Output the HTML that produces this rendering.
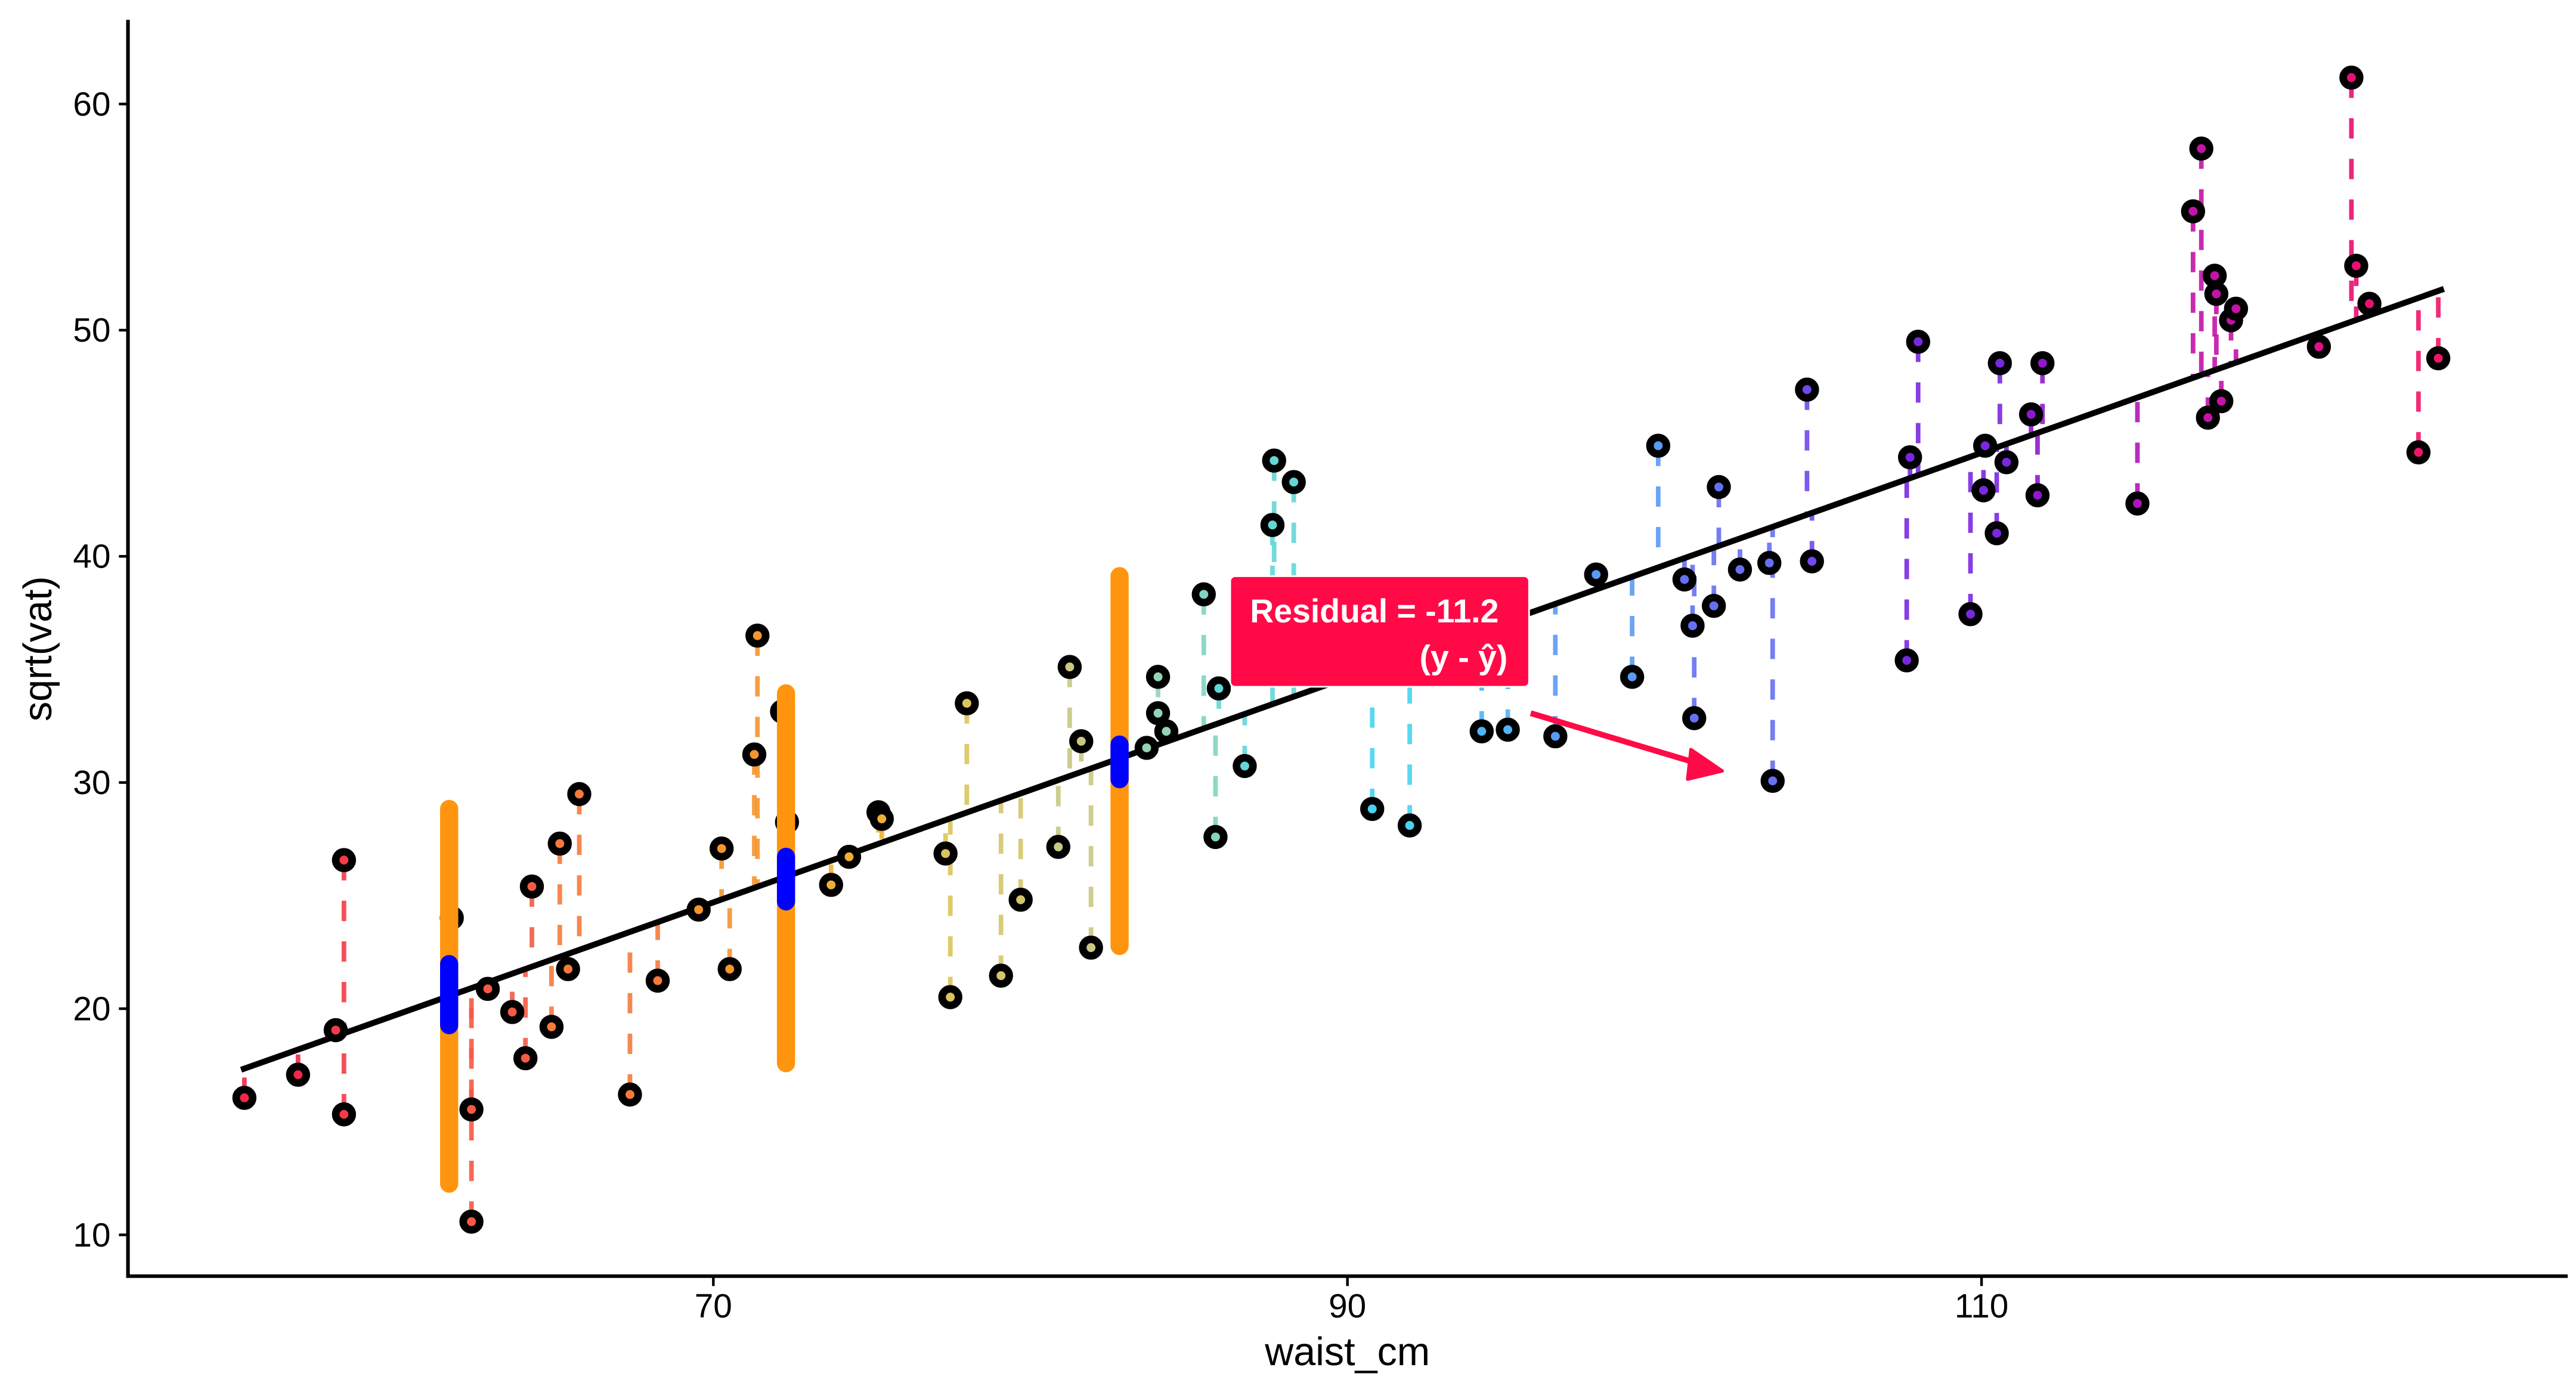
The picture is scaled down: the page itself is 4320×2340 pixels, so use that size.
<!DOCTYPE html>
<html><head><meta charset="utf-8"><style>html,body{margin:0;padding:0;background:#fff}svg{display:block}</style></head>
<body>
<svg xmlns="http://www.w3.org/2000/svg" width="4320" height="2340" viewBox="0 0 1560 845" preserveAspectRatio="none" font-family="'Liberation Sans', Arial, sans-serif">
<rect width="1560" height="845" fill="#fff"/>
<g stroke-width="2.8" stroke-dasharray="12.3,12.3" stroke-opacity="0.9">
<line x1="148" y1="665" x2="148" y2="647" stroke="#F0284A"/>
<line x1="180.5" y1="651" x2="180.5" y2="636" stroke="#F0284A"/>
<line x1="203.3" y1="624" x2="203.3" y2="628" stroke="#F23C48"/>
<line x1="208.3" y1="675" x2="208.3" y2="626" stroke="#F23C48"/>
<line x1="208.3" y1="521" x2="208.3" y2="626" stroke="#F23C48"/>
<line x1="273.6" y1="556" x2="273.6" y2="603" stroke="#F45A44"/>
<line x1="285.5" y1="672" x2="285.5" y2="598" stroke="#F45A44"/>
<line x1="285.5" y1="740" x2="285.5" y2="598" stroke="#F45A44"/>
<line x1="295.4" y1="599" x2="295.4" y2="595" stroke="#F45A44"/>
<line x1="310.2" y1="613" x2="310.2" y2="590" stroke="#F45A44"/>
<line x1="318.2" y1="641" x2="318.2" y2="587" stroke="#F45A44"/>
<line x1="322.1" y1="537" x2="322.1" y2="586" stroke="#F45A44"/>
<line x1="334" y1="622" x2="334" y2="581" stroke="#F57A3C"/>
<line x1="339" y1="511" x2="339" y2="580" stroke="#F57A3C"/>
<line x1="344" y1="587" x2="344" y2="578" stroke="#F57A3C"/>
<line x1="350.8" y1="481" x2="350.8" y2="575" stroke="#F57A3C"/>
<line x1="381.5" y1="663" x2="381.5" y2="565" stroke="#F57A3C"/>
<line x1="398.3" y1="594" x2="398.3" y2="559" stroke="#F57A3C"/>
<line x1="423.1" y1="551" x2="423.1" y2="550" stroke="#F5952E"/>
<line x1="437" y1="514" x2="437" y2="545" stroke="#F5952E"/>
<line x1="441.9" y1="587" x2="441.9" y2="543" stroke="#F5952E"/>
<line x1="456.8" y1="457" x2="456.8" y2="538" stroke="#F5952E"/>
<line x1="458.7" y1="385" x2="458.7" y2="537" stroke="#F5952E"/>
<line x1="473.6" y1="431" x2="473.6" y2="532" stroke="#EDAF36"/>
<line x1="476.6" y1="498" x2="476.6" y2="531" stroke="#EDAF36"/>
<line x1="503.3" y1="536" x2="503.3" y2="521" stroke="#EDAF36"/>
<line x1="514.2" y1="519" x2="514.2" y2="517" stroke="#EDAF36"/>
<line x1="532" y1="492" x2="532" y2="511" stroke="#EDAF36"/>
<line x1="534" y1="496" x2="534" y2="510" stroke="#EDAF36"/>
<line x1="572.6" y1="517" x2="572.6" y2="497" stroke="#DCC45A"/>
<line x1="575.5" y1="604" x2="575.5" y2="496" stroke="#DCC45A"/>
<line x1="585.5" y1="426" x2="585.5" y2="492" stroke="#DCC45A"/>
<line x1="606.2" y1="591" x2="606.2" y2="485" stroke="#D4C66C"/>
<line x1="618.1" y1="545" x2="618.1" y2="481" stroke="#D4C66C"/>
<line x1="640.9" y1="513" x2="640.9" y2="473" stroke="#C8C882"/>
<line x1="647.8" y1="404" x2="647.8" y2="470" stroke="#C8C882"/>
<line x1="654.8" y1="449" x2="654.8" y2="468" stroke="#C8C882"/>
<line x1="660.7" y1="574" x2="660.7" y2="466" stroke="#C8C882"/>
<line x1="694.4" y1="453" x2="694.4" y2="454" stroke="#96D2B4"/>
<line x1="701.3" y1="432" x2="701.3" y2="451" stroke="#96D2B4"/>
<line x1="701.3" y1="410" x2="701.3" y2="451" stroke="#96D2B4"/>
<line x1="706.3" y1="443" x2="706.3" y2="449" stroke="#96D2B4"/>
<line x1="729" y1="360" x2="729" y2="441" stroke="#80D4C0"/>
<line x1="736.1" y1="507" x2="736.1" y2="439" stroke="#80D4C0"/>
<line x1="738.1" y1="417" x2="738.1" y2="438" stroke="#64D6D6"/>
<line x1="753.8" y1="464" x2="753.8" y2="432" stroke="#64D6D6"/>
<line x1="770.6" y1="318" x2="770.6" y2="426" stroke="#64D6D6"/>
<line x1="771.6" y1="279" x2="771.6" y2="426" stroke="#64D6D6"/>
<line x1="783.5" y1="292" x2="783.5" y2="422" stroke="#64D6D6"/>
<line x1="831" y1="490" x2="831" y2="405" stroke="#48D4EE"/>
<line x1="853.7" y1="500" x2="853.7" y2="397" stroke="#48D4EE"/>
<line x1="897.3" y1="443" x2="897.3" y2="382" stroke="#52B4F5"/>
<line x1="913.1" y1="442" x2="913.1" y2="376" stroke="#52B4F5"/>
<line x1="941.9" y1="446" x2="941.9" y2="366" stroke="#5A9AF5"/>
<line x1="966.6" y1="348" x2="966.6" y2="357" stroke="#5A9AF5"/>
<line x1="988.4" y1="410" x2="988.4" y2="349" stroke="#5A9AF5"/>
<line x1="1004.2" y1="270" x2="1004.2" y2="344" stroke="#5A9AF5"/>
<line x1="1020.1" y1="351" x2="1020.1" y2="338" stroke="#6670F2"/>
<line x1="1025" y1="379" x2="1025" y2="336" stroke="#6670F2"/>
<line x1="1026" y1="435" x2="1026" y2="336" stroke="#6670F2"/>
<line x1="1037.9" y1="367" x2="1037.9" y2="332" stroke="#6670F2"/>
<line x1="1040.9" y1="295" x2="1040.9" y2="331" stroke="#6670F2"/>
<line x1="1053.7" y1="345" x2="1053.7" y2="326" stroke="#6670F2"/>
<line x1="1071.5" y1="341" x2="1071.5" y2="320" stroke="#6670F2"/>
<line x1="1073.5" y1="473" x2="1073.5" y2="319" stroke="#6670F2"/>
<line x1="1094.3" y1="236" x2="1094.3" y2="312" stroke="#7048EC"/>
<line x1="1097.3" y1="340" x2="1097.3" y2="311" stroke="#7048EC"/>
<line x1="1154.7" y1="400" x2="1154.7" y2="290" stroke="#7A28E0"/>
<line x1="1156.7" y1="277" x2="1156.7" y2="290" stroke="#7A28E0"/>
<line x1="1161.6" y1="207" x2="1161.6" y2="288" stroke="#7A28E0"/>
<line x1="1193.3" y1="372" x2="1193.3" y2="277" stroke="#7A28E0"/>
<line x1="1201.2" y1="297" x2="1201.2" y2="274" stroke="#7A28E0"/>
<line x1="1202.2" y1="270" x2="1202.2" y2="274" stroke="#7A28E0"/>
<line x1="1209.2" y1="323" x2="1209.2" y2="271" stroke="#7A28E0"/>
<line x1="1211.1" y1="220" x2="1211.1" y2="270" stroke="#7A28E0"/>
<line x1="1215.1" y1="280" x2="1215.1" y2="269" stroke="#7A28E0"/>
<line x1="1230" y1="251" x2="1230" y2="264" stroke="#9018CC"/>
<line x1="1233.9" y1="300" x2="1233.9" y2="262" stroke="#9018CC"/>
<line x1="1236.9" y1="220" x2="1236.9" y2="261" stroke="#9018CC"/>
<line x1="1294.4" y1="305" x2="1294.4" y2="241" stroke="#B014B8"/>
<line x1="1328.1" y1="128" x2="1328.1" y2="229" stroke="#C214A6"/>
<line x1="1333.1" y1="90" x2="1333.1" y2="227" stroke="#C214A6"/>
<line x1="1337.1" y1="253" x2="1337.1" y2="226" stroke="#C214A6"/>
<line x1="1341.2" y1="167" x2="1341.2" y2="224" stroke="#C214A6"/>
<line x1="1342.2" y1="178" x2="1342.2" y2="224" stroke="#C214A6"/>
<line x1="1345.2" y1="243" x2="1345.2" y2="223" stroke="#C214A6"/>
<line x1="1351.1" y1="194" x2="1351.1" y2="221" stroke="#C214A6"/>
<line x1="1354.1" y1="187" x2="1354.1" y2="220" stroke="#C214A6"/>
<line x1="1404.3" y1="210" x2="1404.3" y2="202" stroke="#E0108C"/>
<line x1="1424" y1="47" x2="1424" y2="195" stroke="#E81070"/>
<line x1="1426.9" y1="161" x2="1426.9" y2="194" stroke="#E81070"/>
<line x1="1434.9" y1="184" x2="1434.9" y2="191" stroke="#E81070"/>
<line x1="1464.6" y1="274" x2="1464.6" y2="180" stroke="#F21468"/>
<line x1="1476.6" y1="217" x2="1476.6" y2="176" stroke="#F21468"/>
</g>
<line x1="146" y1="648" x2="1480" y2="175" stroke="#000" stroke-width="3.6"/>
<g stroke="#000" stroke-width="4.6">
<circle cx="148" cy="665" r="5" fill="#F0284A"/>
<circle cx="180.5" cy="651" r="5" fill="#F0284A"/>
<circle cx="203.3" cy="624" r="5" fill="#F23C48"/>
<circle cx="208.3" cy="675" r="5" fill="#F23C48"/>
<circle cx="208.3" cy="521" r="5" fill="#F23C48"/>
<circle cx="273.6" cy="556" r="5" fill="#F45A44"/>
<circle cx="285.5" cy="672" r="5" fill="#F45A44"/>
<circle cx="285.5" cy="740" r="5" fill="#F45A44"/>
<circle cx="295.4" cy="599" r="5" fill="#F45A44"/>
<circle cx="310.2" cy="613" r="5" fill="#F45A44"/>
<circle cx="318.2" cy="641" r="5" fill="#F45A44"/>
<circle cx="322.1" cy="537" r="5" fill="#F45A44"/>
<circle cx="334" cy="622" r="5" fill="#F57A3C"/>
<circle cx="339" cy="511" r="5" fill="#F57A3C"/>
<circle cx="344" cy="587" r="5" fill="#F57A3C"/>
<circle cx="350.8" cy="481" r="5" fill="#F57A3C"/>
<circle cx="381.5" cy="663" r="5" fill="#F57A3C"/>
<circle cx="398.3" cy="594" r="5" fill="#F57A3C"/>
<circle cx="423.1" cy="551" r="5" fill="#F5952E"/>
<circle cx="437" cy="514" r="5" fill="#F5952E"/>
<circle cx="441.9" cy="587" r="5" fill="#F5952E"/>
<circle cx="456.8" cy="457" r="5" fill="#F5952E"/>
<circle cx="458.7" cy="385" r="5" fill="#F5952E"/>
<circle cx="473.6" cy="431" r="5" fill="#EDAF36"/>
<circle cx="476.6" cy="498" r="5" fill="#EDAF36"/>
<circle cx="503.3" cy="536" r="5" fill="#EDAF36"/>
<circle cx="514.2" cy="519" r="5" fill="#EDAF36"/>
<circle cx="532" cy="492" r="5" fill="#EDAF36"/>
<circle cx="534" cy="496" r="5" fill="#EDAF36"/>
<circle cx="572.6" cy="517" r="5" fill="#DCC45A"/>
<circle cx="575.5" cy="604" r="5" fill="#DCC45A"/>
<circle cx="585.5" cy="426" r="5" fill="#DCC45A"/>
<circle cx="606.2" cy="591" r="5" fill="#D4C66C"/>
<circle cx="618.1" cy="545" r="5" fill="#D4C66C"/>
<circle cx="640.9" cy="513" r="5" fill="#C8C882"/>
<circle cx="647.8" cy="404" r="5" fill="#C8C882"/>
<circle cx="654.8" cy="449" r="5" fill="#C8C882"/>
<circle cx="660.7" cy="574" r="5" fill="#C8C882"/>
<circle cx="694.4" cy="453" r="5" fill="#96D2B4"/>
<circle cx="701.3" cy="432" r="5" fill="#96D2B4"/>
<circle cx="701.3" cy="410" r="5" fill="#96D2B4"/>
<circle cx="706.3" cy="443" r="5" fill="#96D2B4"/>
<circle cx="729" cy="360" r="5" fill="#80D4C0"/>
<circle cx="736.1" cy="507" r="5" fill="#80D4C0"/>
<circle cx="738.1" cy="417" r="5" fill="#64D6D6"/>
<circle cx="753.8" cy="464" r="5" fill="#64D6D6"/>
<circle cx="770.6" cy="318" r="5" fill="#64D6D6"/>
<circle cx="771.6" cy="279" r="5" fill="#64D6D6"/>
<circle cx="783.5" cy="292" r="5" fill="#64D6D6"/>
<circle cx="831" cy="490" r="5" fill="#48D4EE"/>
<circle cx="853.7" cy="500" r="5" fill="#48D4EE"/>
<circle cx="897.3" cy="443" r="5" fill="#52B4F5"/>
<circle cx="913.1" cy="442" r="5" fill="#52B4F5"/>
<circle cx="941.9" cy="446" r="5" fill="#5A9AF5"/>
<circle cx="966.6" cy="348" r="5" fill="#5A9AF5"/>
<circle cx="988.4" cy="410" r="5" fill="#5A9AF5"/>
<circle cx="1004.2" cy="270" r="5" fill="#5A9AF5"/>
<circle cx="1020.1" cy="351" r="5" fill="#6670F2"/>
<circle cx="1025" cy="379" r="5" fill="#6670F2"/>
<circle cx="1026" cy="435" r="5" fill="#6670F2"/>
<circle cx="1037.9" cy="367" r="5" fill="#6670F2"/>
<circle cx="1040.9" cy="295" r="5" fill="#6670F2"/>
<circle cx="1053.7" cy="345" r="5" fill="#6670F2"/>
<circle cx="1071.5" cy="341" r="5" fill="#6670F2"/>
<circle cx="1073.5" cy="473" r="5" fill="#6670F2"/>
<circle cx="1094.3" cy="236" r="5" fill="#7048EC"/>
<circle cx="1097.3" cy="340" r="5" fill="#7048EC"/>
<circle cx="1154.7" cy="400" r="5" fill="#7A28E0"/>
<circle cx="1156.7" cy="277" r="5" fill="#7A28E0"/>
<circle cx="1161.6" cy="207" r="5" fill="#7A28E0"/>
<circle cx="1193.3" cy="372" r="5" fill="#7A28E0"/>
<circle cx="1201.2" cy="297" r="5" fill="#7A28E0"/>
<circle cx="1202.2" cy="270" r="5" fill="#7A28E0"/>
<circle cx="1209.2" cy="323" r="5" fill="#7A28E0"/>
<circle cx="1211.1" cy="220" r="5" fill="#7A28E0"/>
<circle cx="1215.1" cy="280" r="5" fill="#7A28E0"/>
<circle cx="1230" cy="251" r="5" fill="#9018CC"/>
<circle cx="1233.9" cy="300" r="5" fill="#9018CC"/>
<circle cx="1236.9" cy="220" r="5" fill="#9018CC"/>
<circle cx="1294.4" cy="305" r="5" fill="#B014B8"/>
<circle cx="1328.1" cy="128" r="5" fill="#C214A6"/>
<circle cx="1333.1" cy="90" r="5" fill="#C214A6"/>
<circle cx="1337.1" cy="253" r="5" fill="#C214A6"/>
<circle cx="1341.2" cy="167" r="5" fill="#C214A6"/>
<circle cx="1342.2" cy="178" r="5" fill="#C214A6"/>
<circle cx="1345.2" cy="243" r="5" fill="#C214A6"/>
<circle cx="1351.1" cy="194" r="5" fill="#C214A6"/>
<circle cx="1354.1" cy="187" r="5" fill="#C214A6"/>
<circle cx="1404.3" cy="210" r="5" fill="#E0108C"/>
<circle cx="1424" cy="47" r="5" fill="#E81070"/>
<circle cx="1426.9" cy="161" r="5" fill="#E81070"/>
<circle cx="1434.9" cy="184" r="5" fill="#E81070"/>
<circle cx="1464.6" cy="274" r="5" fill="#F21468"/>
<circle cx="1476.6" cy="217" r="5" fill="#F21468"/>
</g>
<g stroke-linecap="round">
<line x1="272" y1="490" x2="272" y2="717" stroke="#FF950E" stroke-width="11"/>
<line x1="476" y1="420" x2="476" y2="644" stroke="#FF950E" stroke-width="11"/>
<line x1="678" y1="349" x2="678" y2="573" stroke="#FF950E" stroke-width="11"/>
<line x1="272" y1="584" x2="272" y2="621" stroke="#0000FF" stroke-width="11"/>
<line x1="476" y1="519" x2="476" y2="546" stroke="#0000FF" stroke-width="11"/>
<line x1="678" y1="451" x2="678" y2="472" stroke="#0000FF" stroke-width="11"/>
</g>
<rect x="745" y="349" width="181" height="67" rx="3" fill="#FF0A47" stroke="#fff" stroke-width="1"/>
<text x="757" y="377" fill="#fff" font-weight="bold" font-size="20">Residual = -11.2</text>
<text x="913" y="405" fill="#fff" font-weight="bold" font-size="20" text-anchor="end">(y - ŷ)</text>
<line x1="927" y1="432" x2="1030" y2="463" stroke="#FF0A47" stroke-width="3.5"/>
<polygon points="1043,467 1024,454 1022,472" fill="#FF0A47" stroke="#FF0A47" stroke-width="2" stroke-linejoin="round"/>
<g stroke="#000">
<line x1="77.5" y1="12" x2="77.5" y2="774" stroke-width="2.2"/>
<line x1="76.5" y1="773" x2="1555" y2="773" stroke-width="2.2"/>
<line x1="72" y1="63" x2="77" y2="63" stroke-width="1.6"/>
<line x1="72" y1="200" x2="77" y2="200" stroke-width="1.6"/>
<line x1="72" y1="337" x2="77" y2="337" stroke-width="1.6"/>
<line x1="72" y1="474" x2="77" y2="474" stroke-width="1.6"/>
<line x1="72" y1="611" x2="77" y2="611" stroke-width="1.6"/>
<line x1="72" y1="748" x2="77" y2="748" stroke-width="1.6"/>
<line x1="432" y1="773" x2="432" y2="779" stroke-width="1.6"/>
<line x1="816" y1="773" x2="816" y2="779" stroke-width="1.6"/>
<line x1="1200" y1="773" x2="1200" y2="779" stroke-width="1.6"/>
</g>
<g font-size="20.5" fill="#000" text-anchor="end">
<text x="67" y="70">60</text><text x="67" y="207">50</text><text x="67" y="344">40</text>
<text x="67" y="481">30</text><text x="67" y="618">20</text><text x="67" y="755">10</text>
</g>
<g font-size="20.5" fill="#000" text-anchor="middle">
<text x="432" y="798">70</text><text x="816" y="798">90</text><text x="1200" y="798">110</text>
<text x="816" y="827" font-size="24">waist_cm</text>
</g>
<text transform="translate(31,393) rotate(-90)" font-size="24" text-anchor="middle">sqrt(vat)</text>
</svg>
</body></html>
